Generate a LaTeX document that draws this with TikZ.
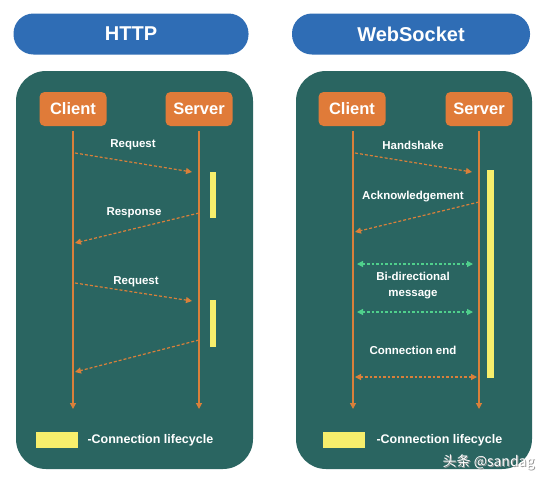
\documentclass[tikz,border=0pt]{standalone}
\usepackage{fontspec}
\setmainfont{Liberation Sans}
\newfontfamily\cjkfont{Noto Sans CJK SC}
\usepackage{xcolor}
\usetikzlibrary{positioning,arrows.meta}

\definecolor{pillblue}{HTML}{2F6DB5}
\definecolor{panelteal}{HTML}{2A6561}
\definecolor{boxorange}{HTML}{E07B39}
\definecolor{lineorange}{HTML}{D9803A}
\definecolor{lifeyellow}{HTML}{F7EE6C}
\definecolor{msggreen}{HTML}{4FD08C}

\tikzset{
  title/.style={fill=pillblue, rounded corners=20pt, minimum width=235pt, minimum height=41pt,
    text=white, font=\bfseries\fontsize{20}{24}\selectfont},
  panel/.style={fill=panelteal, rounded corners=30pt},
  actor/.style={fill=boxorange, rounded corners=5pt, minimum width=67pt, minimum height=34pt,
    text=white, font=\bfseries\fontsize{16.5}{20}\selectfont},
  lifeline/.style={draw=lineorange, line width=1.2pt, -{Triangle[length=6pt,width=6pt]}},
  msg/.style={draw=lineorange, line width=1.2pt, dash pattern=on 3pt off 2pt, -{Triangle[length=6pt,width=6pt]}},
  both/.style={draw=#1, line width=1.2pt, dash pattern=on 2.5pt off 2pt, {Triangle[length=6pt,width=6pt]}-{Triangle[length=6pt,width=6pt]}},
  lbl/.style={text=white, font=\bfseries\fontsize{11.5}{14}\selectfont, align=center},
  legend/.style={text=white, font=\bfseries\fontsize{12.5}{15}\selectfont, anchor=west},
  life/.style={fill=lifeyellow}
}

\begin{document}
\begin{tikzpicture}[x=1pt, y=-1pt]
  \useasboundingbox[fill=white] (0,0) rectangle (550,483);

  % titles
  \node (httptitle) [title] at (131,34) {HTTP};
  \node (wstitle) [title, minimum width=238pt] at (411,34) {WebSocket};

  % panels
  \fill[panel] (16,71) rectangle (253,469);
  \fill[panel] (296,71) rectangle (532,469);

  % HTTP side
  \node (hc) [actor] at (73,109) {Client};
  \node (hs) [actor] at (199,109) {Server};
  \coordinate (hcend) at (73,409);
  \coordinate (hsend) at (199,409);
  \draw[lifeline] (hc.south) ++(0,5) -- (hcend);
  \draw[lifeline] (hs.south) ++(0,5) -- (hsend);

  \coordinate (h1a) at (75,153);  \coordinate (h1b) at (192,172);
  \coordinate (h2a) at (199,213); \coordinate (h2b) at (75,243);
  \coordinate (h3a) at (75,283);  \coordinate (h3b) at (192,301);
  \coordinate (h4a) at (199,340); \coordinate (h4b) at (75,372);

  \draw[msg] (h1a) -- (h1b);
  \draw[msg] (h2a) -- (h2b);
  \draw[msg] (h3a) -- (h3b);
  \draw[msg] (h4a) -- (h4b);

  \node (hreq) [lbl] at (133,145) {Request};
  \node (hres) [lbl] at (134,213) {Response};
  \node (hreq2) [lbl] at (136,282) {Request};

  \fill[life] (210,172) rectangle (216,218);
  \fill[life] (210,300) rectangle (216,347);

  \fill[life] (36,432) rectangle (78,448);
  \node (hleg) [legend] at (84,440) {-Connection lifecycle};

  % WebSocket side
  \node (wc) [actor] at (352,109) {Client};
  \node (ws) [actor] at (479,109) {Server};
  \coordinate (wcend) at (353,409);
  \coordinate (wsend) at (479,409);
  \draw[lifeline] (353,131) -- (wcend);
  \draw[lifeline] (479,131) -- (wsend);

  \coordinate (w1a) at (355,153); \coordinate (w1b) at (472,172);
  \coordinate (w2a) at (479,202); \coordinate (w2b) at (355,232);
  \draw[msg] (w1a) -- (w1b);
  \draw[msg] (w2a) -- (w2b);

  \node (whs) [lbl] at (413,145) {Handshake};
  \node (wack) [lbl] at (413,197) {Acknowledgement};

  \coordinate (g1a) at (357,264); \coordinate (g1b) at (473,264);
  \coordinate (g2a) at (357,312); \coordinate (g2b) at (473,312);
  \draw[both=msggreen] (g1a) -- (g1b);
  \draw[both=msggreen] (g2a) -- (g2b);
  \node (wbi) [lbl, font=\bfseries\fontsize{11.5}{16}\selectfont] at (413,286) {Bi-directional\\message};

  \node (wend) [lbl] at (413,350) {Connection end};
  \coordinate (e1) at (355,377); \coordinate (e2) at (477,377);
  \draw[both=lineorange] (e1) -- (e2);

  \fill[life] (487,170) rectangle (494,378);

  \fill[life] (323,432) rectangle (365,448);
  \node (wleg) [legend] at (373,440) {-Connection lifecycle};

  % watermark
  \node (mark) [anchor=east, text=black!40, font=\cjkfont\fontsize{14}{16}\selectfont] at (539,463) {头条 @sandag};
  \node (mark2) [anchor=east, text=white, font=\cjkfont\fontsize{14}{16}\selectfont] at (538,462) {头条 @sandag};
\end{tikzpicture}
\end{document}
